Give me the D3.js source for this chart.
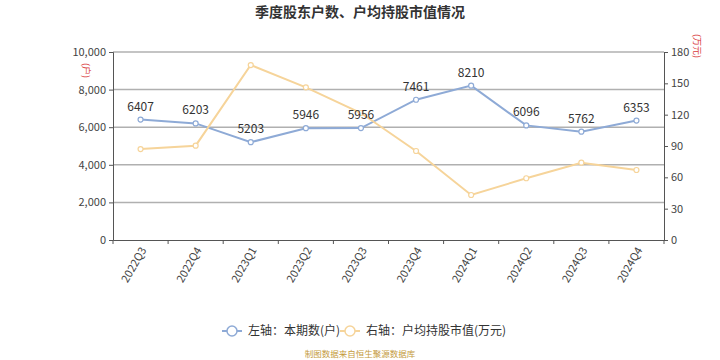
<!DOCTYPE html>
<html><head><meta charset="utf-8">
<script src="https://cdn.jsdelivr.net/npm/d3@7"></script>
<style>body{margin:0;background:#fff;} text{font-family:"Noto Sans CJK SC","Noto Sans",sans-serif;}</style>
</head><body><svg id="c" width="720" height="360"></svg>
<script>
const categories = ["2022Q3","2022Q4","2023Q1","2023Q2","2023Q3","2023Q4","2024Q1","2024Q2","2024Q3","2024Q4"];
const holders = [6407,6203,5203,5946,5956,7461,8210,6096,5762,6353];
const avgValue = [87.1,90.3,167.5,146.2,121.6,85.2,43.1,59.1,74.0,67.0];
const leftTicks = [0,2000,4000,6000,8000,10000];
const rightTicks = [0,30,60,90,120,150,180];

const svg = d3.select("#c");
const L=113, R=664, T=52, B=240;
const x = d3.scaleBand().domain(categories).range([L,R]);
const yL = d3.scaleLinear().domain([0,10000]).range([B,T]);
const yR = d3.scaleLinear().domain([0,180]).range([B,T]);
const blue="#8eaad6", orange="#f6d49a";

svg.append("text").attr("x",360).attr("y",17).attr("text-anchor","middle")
  .attr("font-size",14).attr("font-weight","bold").attr("fill","#333").text("季度股东户数、户均持股市值情况");

// grid
svg.append("g").selectAll("line").data(leftTicks.slice(1)).join("line")
  .attr("x1",L).attr("x2",R).attr("y1",d=>yL(d)).attr("y2",d=>yL(d))
  .attr("stroke","#b0b0b0").attr("stroke-width",1.5);

// left axis
const gL = svg.append("g").attr("transform",`translate(${L},0)`)
  .call(d3.axisLeft(yL).tickValues(leftTicks).tickFormat(d3.format(",")).tickSize(4).tickPadding(3));
gL.select(".domain").attr("stroke","#555");
gL.selectAll(".tick line").attr("stroke","#555");
gL.selectAll("text").attr("font-size",11).attr("fill","#444").attr("font-family","Noto Sans, sans-serif");

// right axis
const gR = svg.append("g").attr("transform",`translate(${R},0)`)
  .call(d3.axisRight(yR).tickValues(rightTicks).tickSize(4).tickPadding(3));
gR.select(".domain").attr("stroke","#555");
gR.selectAll(".tick line").attr("stroke","#555");
gR.selectAll("text").attr("font-size",11).attr("fill","#444").attr("font-family","Noto Sans, sans-serif");

// bottom axis
const gB = svg.append("g").attr("transform",`translate(0,${B})`)
  .call(d3.axisBottom(x).tickSize(0).tickFormat(""));
gB.select(".domain").attr("stroke","#555");
const bounds = d3.range(categories.length+1).map(i=>L+i*x.step());
gB.selectAll("line.bt").data(bounds).join("line").attr("class","bt")
  .attr("x1",d=>d).attr("x2",d=>d).attr("y1",0).attr("y2",4).attr("stroke","#555");
gB.selectAll("text.xl").data(categories).join("text").attr("class","xl")
  .attr("transform",d=>`translate(${x(d)+x.bandwidth()/2+3},8) rotate(-60)`)
  .attr("text-anchor","end").attr("dy","0.35em").attr("font-size",11).attr("fill","#444")
  .attr("font-family","Noto Sans, sans-serif").text(d=>d);

// unit labels
svg.append("text").attr("transform","translate(83,63) rotate(90)").attr("font-size",9).attr("fill","#d93a3a").text("(户)");
svg.append("text").attr("transform","translate(694,34) rotate(90)").attr("font-size",9).attr("fill","#d93a3a").text("(万元)");

const cx = (d,i)=>x(categories[i])+x.bandwidth()/2;
// blue line
svg.append("path").datum(holders).attr("fill","none").attr("stroke",blue).attr("stroke-width",2)
  .attr("d",d3.line().x(cx).y(d=>yL(d)));
svg.append("g").selectAll("circle").data(holders).join("circle")
  .attr("cx",cx).attr("cy",d=>yL(d)).attr("r",2.5).attr("fill","#fff").attr("stroke",blue).attr("stroke-width",1.2);
// orange line
svg.append("path").datum(avgValue).attr("fill","none").attr("stroke",orange).attr("stroke-width",2)
  .attr("d",d3.line().x(cx).y(d=>yR(d)));
svg.append("g").selectAll("circle").data(avgValue).join("circle")
  .attr("cx",cx).attr("cy",d=>yR(d)).attr("r",2.5).attr("fill","#fff").attr("stroke",orange).attr("stroke-width",1.2);
svg.append("g").selectAll("text").data(holders).join("text")
  .attr("x",cx).attr("y",d=>yL(d)-9).attr("text-anchor","middle").attr("font-size",12).attr("fill","#333")
  .attr("font-family","Noto Sans, sans-serif").text(d=>d);

// legend
const lg = svg.append("g");
[[232,blue,"左轴：本期数(户)"],[350,orange,"右轴：户均持股市值(万元)"]].forEach(([lx,c,t])=>{
  lg.append("line").attr("x1",lx-10).attr("x2",lx+10).attr("y1",331).attr("y2",331).attr("stroke",c).attr("stroke-width",2);
  lg.append("circle").attr("cx",lx).attr("cy",331).attr("r",5).attr("fill","#fff").attr("stroke",c).attr("stroke-width",1.5);
  lg.append("text").attr("x",lx+16).attr("y",335).attr("font-size",12).attr("fill","#333").text(t);
});
svg.append("text").attr("x",360).attr("y",357).attr("text-anchor","middle").attr("font-size",8.5).attr("fill","#c49a3c").text("制图数据来自恒生聚源数据库");
</script></body></html>
